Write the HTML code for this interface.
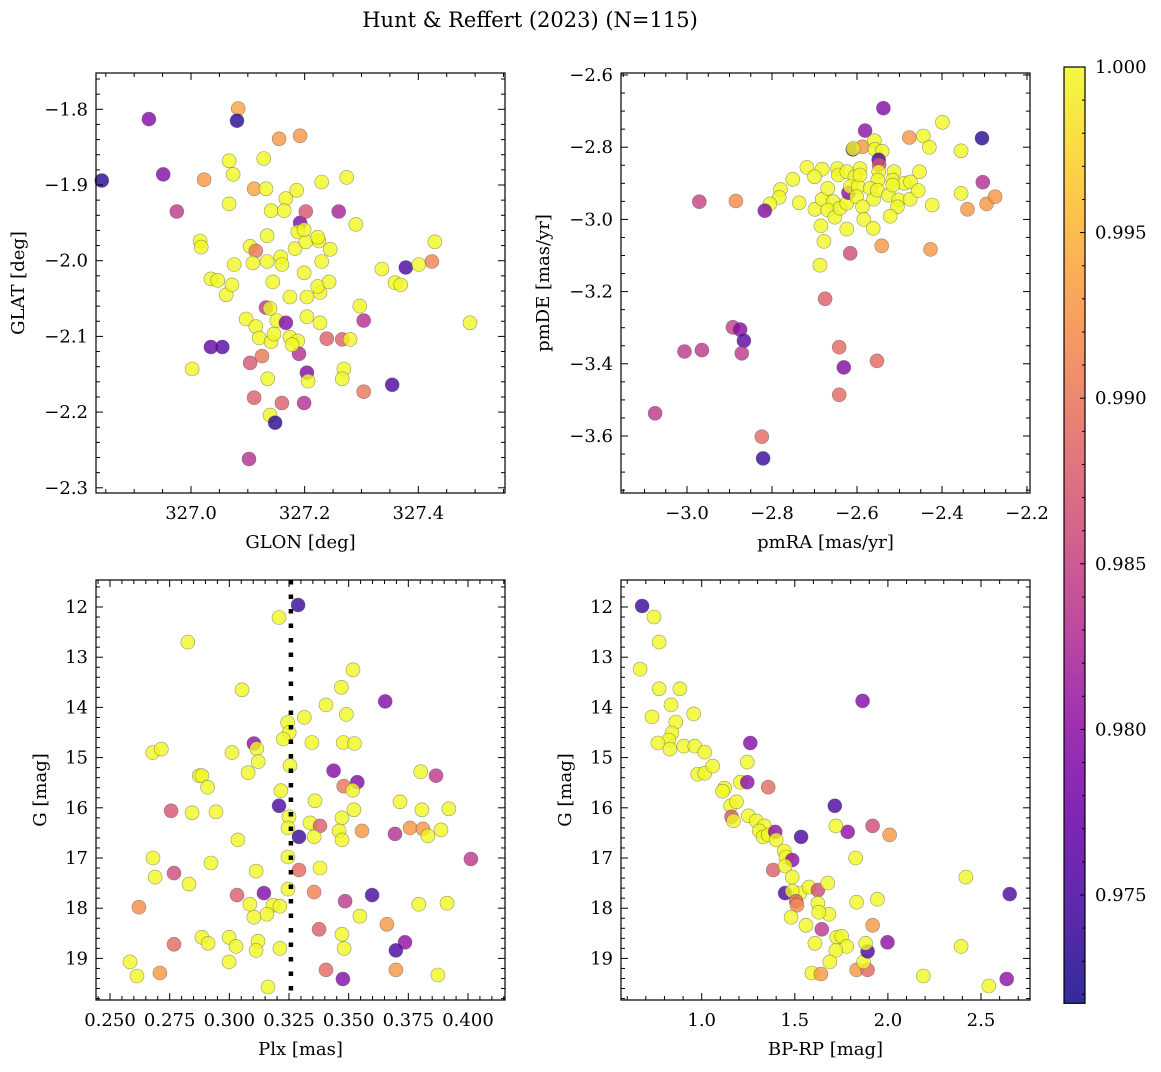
<!DOCTYPE html>
<html><head><meta charset="utf-8"><style>
html,body{margin:0;padding:0;background:#fff}
svg text{font-family:"DejaVu Serif","Liberation Serif",serif;fill:#000}
</style></head><body>
<svg id="fig" width="1161" height="1067" viewBox="0 0 1161 1067" xmlns="http://www.w3.org/2000/svg">
<defs>
<linearGradient id="plasma" x1="0" y1="1" x2="0" y2="0">
<stop offset="0" stop-color="#0d0887"/><stop offset="0.1" stop-color="#41049d"/><stop offset="0.2" stop-color="#6a00a8"/><stop offset="0.3" stop-color="#8f0da4"/><stop offset="0.4" stop-color="#b12a90"/><stop offset="0.5" stop-color="#cc4778"/><stop offset="0.6" stop-color="#e16462"/><stop offset="0.7" stop-color="#f2844b"/><stop offset="0.8" stop-color="#fca636"/><stop offset="0.9" stop-color="#fcce25"/><stop offset="1" stop-color="#f0f921"/>
</linearGradient>
</defs>
<text x="530" y="27" font-size="21" text-anchor="middle">Hunt &amp; Reffert (2023) (N=115)</text>
</svg>
<script>
// ---- Panel 1: GLON vs GLAT ----
const p1Lon=[326.843,326.926,326.951,326.975,327.023,327.083,327.081,327.067,327.074,327.111,327.128,327.155,327.192,327.067,327.132,327.141,327.167,327.186,327.164,327.192,327.202,327.230,327.260,327.274,327.290,327.016,327.018,327.035,327.047,327.062,327.076,327.072,327.104,327.114,327.109,327.134,327.134,327.144,327.158,327.160,327.174,327.199,327.183,327.188,327.202,327.199,327.225,327.223,327.230,327.245,327.227,327.223,327.243,327.204,327.204,327.227,327.297,327.336,327.378,327.359,327.369,327.401,327.424,327.429,327.491,327.097,327.114,327.132,327.139,327.151,327.167,327.120,327.141,327.146,327.174,327.188,327.190,327.178,327.204,327.206,327.135,327.125,327.104,327.111,327.160,327.199,327.139,327.148,327.102,327.002,327.035,327.055,327.239,327.266,327.280,327.269,327.266,327.304,327.304,327.354];
const p1Lat=[-1.894,-1.813,-1.886,-1.935,-1.893,-1.799,-1.815,-1.868,-1.886,-1.905,-1.865,-1.839,-1.835,-1.925,-1.905,-1.934,-1.918,-1.907,-1.934,-1.950,-1.935,-1.896,-1.935,-1.890,-1.952,-1.974,-1.982,-2.024,-2.026,-2.045,-2.005,-2.032,-1.981,-1.987,-2.003,-1.967,-2.001,-2.028,-1.995,-2.005,-2.048,-2.016,-1.984,-1.962,-1.975,-1.959,-1.974,-1.969,-2.001,-1.985,-2.042,-2.034,-2.028,-2.074,-2.048,-2.082,-2.060,-2.011,-2.009,-2.029,-2.032,-2.005,-2.001,-1.975,-2.082,-2.077,-2.087,-2.062,-2.063,-2.079,-2.082,-2.102,-2.107,-2.097,-2.101,-2.106,-2.123,-2.111,-2.148,-2.159,-2.156,-2.126,-2.135,-2.181,-2.188,-2.188,-2.204,-2.214,-2.262,-2.143,-2.114,-2.114,-2.103,-2.104,-2.104,-2.143,-2.156,-2.173,-2.079,-2.164];
const p1Prob=[0.973,0.979,0.979,0.984,0.993,0.994,0.973,1,1,0.994,1,0.993,0.993,1,1,1,1,1,1,0.979,0.987,1,0.982,1,1,1,1,1,1,1,1,1,1,0.99,1,1,1,1,1,1,1,1,1,1,1,1,1,1,1,1,1,1,1,1,1,1,1,1,0.975,1,1,1,0.991,1,1,1,1,0.984,1,1,0.979,1,1,1,1,1,0.983,1,0.979,1,1,0.99,0.987,0.988,0.988,0.983,1,0.973,0.983,1,0.977,0.976,0.988,0.988,1,1,1,0.99,0.983,0.975];
const p1XTicks=[327.0,327.2,327.4];
const p1XTickLabels=["327.0","327.2","327.4"];
const p1YTicks=[-1.8,-1.9,-2.0,-2.1,-2.2,-2.3];
const p1YTickLabels=["−1.8","−1.9","−2.0","−2.1","−2.2","−2.3"];

// ---- Panel 2: pmRA vs pmDE ----
const p2PmRA=[-2.538,-2.581,-2.477,-2.444,-2.399,-2.430,-2.306,-2.355,-2.610,-2.587,-2.609,-2.559,-2.558,-2.541,-2.549,-2.548,-2.549,-2.718,-2.682,-2.700,-2.646,-2.644,-2.624,-2.593,-2.605,-2.513,-2.453,-2.551,-2.516,-2.489,-2.474,-2.751,-2.780,-2.783,-2.805,-2.817,-2.885,-2.971,-2.736,-2.699,-2.682,-2.669,-2.656,-2.669,-2.652,-2.640,-2.624,-2.620,-2.616,-2.597,-2.593,-2.601,-2.587,-2.569,-2.561,-2.552,-2.526,-2.516,-2.502,-2.505,-2.475,-2.456,-2.423,-2.522,-2.584,-2.562,-2.624,-2.685,-2.678,-2.687,-2.616,-2.542,-2.427,-2.355,-2.340,-2.304,-2.295,-2.275,-2.675,-2.642,-2.631,-2.553,-2.642,-2.892,-2.875,-2.866,-2.871,-3.006,-2.965,-3.075,-2.824,-2.821];
const p2PmDE=[-2.692,-2.754,-2.773,-2.769,-2.731,-2.800,-2.775,-2.810,-2.806,-2.799,-2.804,-2.782,-2.806,-2.811,-2.835,-2.849,-2.868,-2.856,-2.861,-2.882,-2.859,-2.877,-2.868,-2.859,-2.882,-2.868,-2.868,-2.891,-2.891,-2.900,-2.896,-2.889,-2.917,-2.939,-2.957,-2.976,-2.949,-2.951,-2.954,-2.972,-2.944,-2.914,-2.951,-2.974,-2.994,-2.969,-2.955,-2.926,-2.909,-2.909,-2.877,-2.937,-2.965,-2.914,-2.944,-2.919,-2.933,-2.905,-2.946,-2.965,-2.944,-2.920,-2.960,-2.991,-3.000,-3.025,-3.027,-3.018,-3.061,-3.127,-3.094,-3.073,-3.083,-2.928,-2.972,-2.897,-2.957,-2.937,-3.220,-3.354,-3.410,-3.392,-3.486,-3.299,-3.305,-3.336,-3.371,-3.366,-3.362,-3.537,-3.602,-3.662];
const p2Prob=[0.979,0.980,0.993,1,1,1,0.973,1,0.976,0.993,1,1,1,1,0.975,0.987,1,1,1,1,1,1,1,1,1,1,1,1,1,1,1,1,1,1,1,0.979,0.992,0.985,1,1,1,1,1,1,1,1,1,0.980,1,1,1,1,1,1,1,1,1,1,1,1,1,1,1,1,1,1,1,1,1,1,0.986,0.993,0.993,1,0.993,0.983,0.993,0.993,0.988,0.989,0.979,0.989,0.989,0.985,0.979,0.976,0.984,0.984,0.984,0.984,0.989,0.974];
const p2XTicks=[-3.0,-2.8,-2.6,-2.4,-2.2];
const p2XTickLabels=["−3.0","−2.8","−2.6","−2.4","−2.2"];
const p2YTicks=[-2.6,-2.8,-3.0,-3.2,-3.4,-3.6];
const p2YTickLabels=["−2.6","−2.8","−3.0","−3.2","−3.4","−3.6"];

// ---- Panel 3: Plx vs G ----
const p3Plx=[0.3288,0.3208,0.2826,0.3053,0.3518,0.3469,0.3653,0.3405,0.3490,0.3314,0.3244,0.3251,0.3226,0.3346,0.3477,0.3524,0.3103,0.3115,0.2679,0.2715,0.3011,0.3121,0.3079,0.2874,0.2885,0.3254,0.3437,0.3802,0.3866,0.3536,0.3479,0.3517,0.2909,0.3216,0.3208,0.3359,0.3522,0.3472,0.3250,0.3338,0.3380,0.3460,0.3556,0.3246,0.3292,0.3355,0.3472,0.2944,0.2844,0.2756,0.3036,0.3715,0.3807,0.3757,0.3694,0.3811,0.3832,0.3887,0.3920,0.4012,0.2680,0.2923,0.3112,0.2768,0.2689,0.3246,0.3292,0.3380,0.3355,0.3485,0.3598,0.2831,0.3145,0.3032,0.3246,0.3183,0.3212,0.3103,0.3158,0.3086,0.3547,0.2621,0.3794,0.3912,0.3660,0.3376,0.3472,0.2768,0.2885,0.2911,0.2999,0.3028,0.3120,0.3112,0.3212,0.3481,0.3736,0.3698,0.2584,0.2613,0.2709,0.2999,0.3405,0.3476,0.3698,0.3874,0.3162];
const p3G=[11.96,12.21,12.70,13.65,13.25,13.60,13.88,13.95,14.14,14.20,14.30,14.50,14.63,14.70,14.70,14.72,14.72,14.82,14.90,14.83,14.90,15.08,15.30,15.36,15.36,15.16,15.26,15.28,15.36,15.49,15.57,15.65,15.59,15.66,15.96,15.86,16.04,16.20,16.18,16.30,16.36,16.46,16.46,16.40,16.58,16.58,16.64,16.08,16.10,16.06,16.64,15.88,16.04,16.40,16.52,16.42,16.56,16.44,16.02,17.02,17.00,17.10,17.26,17.30,17.38,16.98,17.24,17.20,17.68,17.86,17.74,17.52,17.70,17.74,17.62,17.94,17.96,18.18,18.12,17.92,18.16,17.98,17.92,17.90,18.32,18.42,18.52,18.72,18.58,18.70,18.58,18.76,18.66,18.84,18.80,18.80,18.68,18.84,19.07,19.35,19.29,19.07,19.23,19.41,19.23,19.33,19.57];
const p3Prob=[0.974,1,1,1,1,1,0.979,1,1,1,1,1,1,1,1,1,0.980,1,1,1,1,1,1,1,1,1,0.979,1,0.984,0.979,0.990,1,1,1,0.975,1,1,1,1,1,0.988,1,0.993,1,0.974,1,1,1,1,0.987,1,1,1,0.993,0.983,0.993,1,1,1,0.984,1,1,1,0.986,1,1,0.989,1,0.991,0.984,0.975,1,0.979,0.988,1,1,1,1,1,1,1,0.992,1,1,0.993,0.988,1,0.989,1,1,1,1,1,1,1,1,0.980,0.975,1,1,0.993,1,0.989,0.979,0.993,1,1];
const p3ParallaxRef=[0.3258];
const p3XTicks=[0.250,0.275,0.300,0.325,0.350,0.375,0.400];
const p3XTickLabels=["0.250","0.275","0.300","0.325","0.350","0.375","0.400"];
const gTicks=[12,13,14,15,16,17,18,19];
const gTickLabels=["12","13","14","15","16","17","18","19"];

// ---- Panel 4: BP-RP vs G ----
const p4BpRp=[0.680,0.744,0.771,0.669,0.771,0.883,0.835,0.733,0.861,0.957,0.840,0.824,0.765,0.904,0.963,1.016,0.829,1.261,1.864,0.979,1.016,1.059,1.245,1.123,1.208,1.245,1.357,1.112,1.155,1.187,1.160,1.171,1.251,1.294,1.336,1.309,1.330,1.357,1.395,1.400,1.443,1.453,1.384,1.486,1.448,1.448,1.486,1.528,1.486,1.507,1.512,1.480,1.576,1.624,1.677,1.624,1.683,1.560,1.629,1.645,1.725,1.752,1.779,1.720,1.608,1.688,1.592,1.640,1.832,1.891,1.869,1.891,1.880,1.832,1.944,1.827,1.784,1.720,1.715,1.534,1.918,2.009,1.998,1.918,2.190,2.393,2.419,2.542,2.638,2.654];
const p4G=[11.98,12.20,12.70,13.24,13.63,13.63,13.95,14.19,14.29,14.13,14.51,14.65,14.71,14.77,14.77,14.89,14.83,14.71,13.87,15.33,15.31,15.17,15.09,15.61,15.49,15.49,15.59,15.67,15.96,15.88,16.18,16.26,16.16,16.26,16.36,16.46,16.58,16.54,16.48,16.64,16.86,16.98,17.24,17.04,17.16,17.70,17.38,17.70,17.66,17.86,17.94,18.18,17.58,17.64,17.50,17.90,18.12,18.34,18.08,18.42,18.58,18.56,18.76,18.84,18.70,19.07,19.29,19.31,19.23,19.23,19.07,18.86,18.70,17.88,17.82,17.00,16.48,16.36,15.96,16.58,16.36,16.54,18.68,18.34,19.35,18.76,17.38,19.55,19.41,17.72];
const p4Prob=[0.974,1,1,1,1,1,1,1,1,1,1,1,1,1,1,1,1,0.979,0.979,1,1,1,1,1,1,0.980,0.989,1,1,1,0.987,1,1,1,1,1,1,1,0.980,1,1,1,0.988,0.980,1,0.975,1,1,1,0.988,0.992,1,1,0.986,1,1,1,1,1,0.984,1,1,1,1,1,1,1,0.993,0.993,0.989,1,0.975,1,1,1,1,0.980,1,0.975,0.975,0.986,0.993,0.980,0.993,1,1,1,1,0.980,0.975];
const p4XTicks=[1.0,1.5,2.0,2.5];
const p4XTickLabels=["1.0","1.5","2.0","2.5"];

// ---- Colorbar ----
const cbTicks=[1.000,0.995,0.990,0.985,0.980,0.975];
const cbTickLabels=["1.000","0.995","0.990","0.985","0.980","0.975"];
const cbMin=0.97173, cbMax=1.0;

const NS="http://www.w3.org/2000/svg";
const svg=document.getElementById('fig');
function mk(tag,attrs,parent){const e=document.createElementNS(NS,tag);for(const k in attrs)e.setAttribute(k,attrs[k]);(parent||svg).appendChild(e);return e;}
function lin(d0,d1,r0,r1){return v=>r0+(v-d0)*(r1-r0)/(d1-d0);}
const stops=[[13,8,135],[65,4,157],[106,0,168],[143,13,164],[177,42,144],[204,71,120],[225,100,98],[242,132,75],[252,166,54],[252,206,37],[240,249,33]];
function plasma(v){let t=(v-cbMin)/(cbMax-cbMin);t=Math.max(0,Math.min(1,t));const s=t*10,i=Math.min(9,Math.floor(s)),f=s-i;const a=stops[i],b=stops[i+1];return `rgb(${Math.round(a[0]+(b[0]-a[0])*f)},${Math.round(a[1]+(b[1]-a[1])*f)},${Math.round(a[2]+(b[2]-a[2])*f)})`;}

const TF=18;
function panel(cfg){
  const g=mk('g',{});
  
  
  const {x0,x1,y0,y1}=cfg.box;
  const pg=mk('g',{},g);
  
  
  for(let i=0;i<cfg.xs.length;i++){
    const c=mk('circle',{cx:cfg.sx(cfg.xs[i]).toFixed(1),cy:cfg.sy(cfg.ys[i]).toFixed(1),r:7,fill:plasma(cfg.cs[i]),'fill-opacity':0.8,stroke:'#555','stroke-opacity':0.6,'stroke-width':0.6},pg);
    
    
  }
  if(cfg.extra)cfg.extra(g);
  const fr=mk('rect',{x:x0,y:y0,width:x1-x0,height:y1-y0,fill:'none',stroke:'#000','stroke-width':1.2},g);
  
  
  const tg=mk('g',{stroke:'#000','stroke-width':1},g);
  
  
  function xt(v,len){const p=cfg.sx(v);if(p<x0+0.5||p>x1-0.5)return;mk('line',{x1:p,x2:p,y1:y1,y2:y1-len},tg);mk('line',{x1:p,x2:p,y1:y0,y2:y0+len},tg);}
  function yt(v,len){const p=cfg.sy(v);if(p<y0+0.5||p>y1-0.5)return;mk('line',{x1:x0,x2:x0+len,y1:p,y2:p},tg);mk('line',{x1:x1,x2:x1-len,y1:p,y2:p},tg);}
  const xs=cfg.xTicks, ys=cfg.yTicks;
  const xstep=xs[1]-xs[0], ystep=ys[1]-ys[0];
  for(let k=-10;k<xs.length*cfg.xDiv+10;k++){const v=xs[0]+k*xstep/cfg.xDiv;xt(v,k%cfg.xDiv===0?7:4);}
  for(let k=-10;k<ys.length*cfg.yDiv+10;k++){const v=ys[0]+k*ystep/cfg.yDiv;yt(v,k%cfg.yDiv===0?7:4);}
  xs.forEach((v,i)=>{const t=mk('text',{x:cfg.sx(v),y:y1+26,'font-size':TF,'text-anchor':'middle'},g);t.textContent=cfg.xLabels[i];});
  ys.forEach((v,i)=>{const t=mk('text',{x:x0-8,y:cfg.sy(v)+6,'font-size':TF,'text-anchor':'end'},g);t.textContent=cfg.yLabels[i];});
  const xl=mk('text',{x:(x0+x1)/2,y:y1+55,'font-size':TF,'text-anchor':'middle'},g);xl.textContent=cfg.xTitle;
  
  const yl=mk('text',{x:0,y:0,'font-size':TF,'text-anchor':'middle',transform:`translate(${cfg.yTitleX},${(y0+y1)/2}) rotate(-90)`},g);yl.textContent=cfg.yTitle;
  
}

const gy=lin(12,19,607,958.4);
panel({name:'glon-glat-panel',box:{x0:96,x1:505,y0:73,y1:493},xs:p1Lon,ys:p1Lat,cs:p1Prob,
  sx:lin(327.0,327.4,191,418.3),sy:lin(-1.8,-2.3,109.3,487.8),
  xTicks:p1XTicks,xLabels:p1XTickLabels,yTicks:p1YTicks,yLabels:p1YTickLabels,xDiv:4,yDiv:5,
  xTitle:'GLON [deg]',yTitle:'GLAT [deg]',yTitleX:24});
panel({name:'pm-panel',box:{x0:621,x1:1030,y0:73,y1:493},xs:p2PmRA,ys:p2PmDE,cs:p2Prob,
  sx:lin(-3.0,-2.2,687,1027),sy:lin(-2.6,-3.6,75,436),
  xTicks:p2XTicks,xLabels:p2XTickLabels,yTicks:p2YTicks,yLabels:p2YTickLabels,xDiv:4,yDiv:4,
  xTitle:'pmRA [mas/yr]',yTitle:'pmDE [mas/yr]',yTitleX:549});
const p3sx=lin(0.25,0.40,110,468);
panel({name:'plx-g-panel',box:{x0:96,x1:505,y0:580,y1:1000},xs:p3Plx,ys:p3G,cs:p3Prob,
  sx:p3sx,sy:gy,
  xTicks:p3XTicks,xLabels:p3XTickLabels,yTicks:gTicks,yLabels:gTickLabels,xDiv:5,yDiv:5,
  xTitle:'Plx [mas]',yTitle:'G [mag]',yTitleX:46,
  extra:(g)=>{p3ParallaxRef.forEach(v=>{const l=mk('line',{x1:p3sx(v),x2:p3sx(v),y1:580,y2:1000,stroke:'#000','stroke-width':4.5,'stroke-dasharray':'4.5 10'},g);});}});
panel({name:'cmd-panel',box:{x0:621,x1:1030,y0:580,y1:1000},xs:p4BpRp,ys:p4G,cs:p4Prob,
  sx:lin(1.0,2.5,701.7,981),sy:gy,
  xTicks:p4XTicks,xLabels:p4XTickLabels,yTicks:gTicks,yLabels:gTickLabels,xDiv:5,yDiv:5,
  xTitle:'BP-RP [mag]',yTitle:'G [mag]',yTitleX:571});

const cb=mk('g',{});


const cy=lin(1.0,0.995,67,232.6);
const cbBottom=cy(cbMin);
const cr=mk('rect',{x:1064,y:67,width:21,height:cbBottom-67,fill:'url(#plasma)','fill-opacity':0.85,stroke:'#000','stroke-width':1.2},cb);


for(let k=0;k<=40;k++){const v=1.0-k*0.001;const p=cy(v);if(p>cbBottom-1)break;const len=(k%5===0)?5:3;mk('line',{x1:1085,x2:1085-len,y1:p,y2:p,stroke:'#000','stroke-width':1},cb);}
cbTicks.forEach((v,i)=>{const t=mk('text',{x:1095,y:cy(v)+6,'font-size':TF},cb);t.textContent=cbTickLabels[i];});
</script>
</body></html>
